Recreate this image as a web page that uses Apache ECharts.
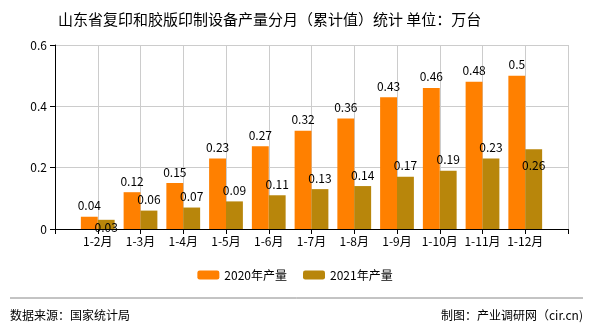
<!DOCTYPE html>
<html><head><meta charset="utf-8">
<script src="https://cdn.jsdelivr.net/npm/echarts@6/dist/echarts.min.js"></script>
<style>html,body{margin:0;padding:0;background:#fff}#c{width:590px;height:330px}</style>
</head><body><div id="c"></div>
<script>
const categories = ['1-2月','1-3月','1-4月','1-5月','1-6月','1-7月','1-8月','1-9月','1-10月','1-11月','1-12月'];
const values2020 = [0.04,0.12,0.15,0.23,0.27,0.32,0.36,0.43,0.46,0.48,0.5];
const values2021 = [0.03,0.06,0.07,0.09,0.11,0.13,0.14,0.17,0.19,0.23,0.26];
const seriesNames = ['2020年产量','2021年产量'];
const yTicks = [0,0.2,0.4,0.6];

const FONT = 'Noto Sans CJK SC';
const cats = [''].concat(categories, ['']);
function pad(arr){ return ['-'].concat(arr, ['-']); }
const s2021 = pad(values2021).map((v,i)=>{
  if (i===1) return {value:v, label:{position:'insideTop', distance:2}};
  if (i===11) return {value:v, label:{position:'insideTop', distance:10}};
  return v;
});
const chart = echarts.init(document.getElementById('c'), null, {renderer:'canvas'});
chart.setOption({
  animation:false,
  textStyle:{fontFamily:FONT},
  title:{text:'山东省复印和胶版印制设备产量分月（累计值）统计 单位：万台', left:53, top:7,
    textStyle:{fontSize:15, fontWeight:'normal', color:'#000', fontFamily:FONT}},
  legend:{data:seriesNames, bottom:44, left:'center', itemWidth:22, itemHeight:9, itemGap:16,
    textStyle:{fontSize:12, color:'#000', fontFamily:FONT}},
  grid:{left:55, right:22, top:45, bottom:101},
  xAxis:{type:'category', data:cats, boundaryGap:false,
    axisLine:{lineStyle:{color:'#000'}},
    axisTick:{show:true, lineStyle:{color:'#000'}},
    axisLabel:{color:'#000', fontSize:12, margin:6, fontFamily:FONT, interval:0},
    splitLine:{show:true, lineStyle:{color:'#ccc'}}},
  yAxis:{type:'value', min:yTicks[0], max:yTicks[yTicks.length-1], interval:0.2,
    axisLine:{show:true, lineStyle:{color:'#000'}},
    axisTick:{show:true, lineStyle:{color:'#000'}},
    axisLabel:{color:'#000', fontSize:12, fontFamily:FONT},
    splitLine:{lineStyle:{color:'#ccc'}}},
  series:[
    {name:seriesNames[0], type:'bar', data:pad(values2020), barGap:'0%', barCategoryGap:'21%',
     itemStyle:{color:'#FF8000'},
     label:{show:true, position:'top', color:'#000', fontSize:12, fontFamily:FONT}},
    {name:seriesNames[1], type:'bar', data:s2021,
     itemStyle:{color:'#B8860B'},
     label:{show:true, position:'top', color:'#000', fontSize:12, fontFamily:FONT}}
  ],
  graphic:[
    {type:'line', shape:{x1:10,y1:298,x2:583,y2:298}, style:{stroke:'#888', lineWidth:1}},
    {type:'text', left:10, top:309, style:{text:'数据来源：国家统计局', fontSize:12, fill:'#000', fontFamily:FONT}},
    {type:'text', right:7, top:309, style:{text:'制图：产业调研网（cir.cn)', fontSize:12, fill:'#000', fontFamily:FONT}}
  ]
});
</script></body></html>
